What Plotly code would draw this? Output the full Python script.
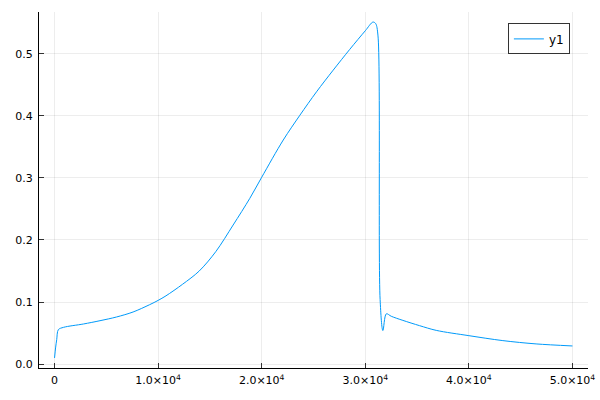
import plotly.graph_objects as go

x_vals = [0, 100, 210, 370, 870, 2790, 4390, 5990, 7580, 9180, 10000, 10760,
          12360, 13960, 15560, 17240, 18850, 20000, 22080, 23690, 25290,
          26900, 28500, 30000, 30740, 31000, 31220, 31430, 31700, 32030, 32510,
          33630, 35240, 36850, 40000, 43280, 46490, 50000]
y_vals = [0.0099, 0.026, 0.0394, 0.0555, 0.0592, 0.0646, 0.0699, 0.0759, 0.0839,
          0.0957, 0.1026, 0.110, 0.1286, 0.1498, 0.181, 0.224, 0.267, 0.301,
          0.361, 0.401, 0.4386, 0.4735, 0.507, 0.537, 0.551, 0.5486, 0.530, 0.104,
          0.054, 0.081, 0.077, 0.0704, 0.0619, 0.0543, 0.0458, 0.0378, 0.0325, 0.0292]

x_tickvals = [0, 10000, 20000, 30000, 40000, 50000]
x_ticktext = ["0", "1.0×10<sup>4</sup>", "2.0×10<sup>4</sup>", "3.0×10<sup>4</sup>",
              "4.0×10<sup>4</sup>", "5.0×10<sup>4</sup>"]
y_tickvals = [0.0, 0.1, 0.2, 0.3, 0.4, 0.5]
y_ticktext = ["0.0", "0.1", "0.2", "0.3", "0.4", "0.5"]

fig = go.Figure()
fig.add_trace(go.Scatter(x=x_vals, y=y_vals, mode="lines", name="y1",
                         line=dict(color="#009AFA", width=1, shape="spline", smoothing=0.9)))

axis_common = dict(
    showgrid=True, gridcolor="rgba(0,0,0,0.07)", gridwidth=0.5,
    zeroline=False, showline=True, linecolor="black", linewidth=1,
    ticks="inside", ticklen=5, tickcolor="#333333", tickwidth=1,
    tickfont=dict(family="DejaVu Sans", size=11, color="black"),
    mirror=False, automargin=False,
)

fig.update_xaxes(range=[-1500, 51500], tickvals=x_tickvals, ticktext=x_ticktext,
                 ticklabelstandoff=2, **axis_common)
fig.update_yaxes(range=[-0.0063, 0.5672], tickvals=y_tickvals, ticktext=y_ticktext,
                 ticklabelstandoff=3, **axis_common)

fig.update_layout(
    width=600, height=400,
    margin=dict(l=39, r=12, t=12, b=32),
    paper_bgcolor="white", plot_bgcolor="white",
    showlegend=True,
    legend=dict(x=0.967, y=0.968, xanchor="right", yanchor="top",
                bordercolor="#333333", borderwidth=1, bgcolor="white",
                font=dict(family="DejaVu Sans", size=12, color="black")),
)

fig.write_html("out.html", config={"displayModeBar": False})
with open("out.html", "r", encoding="utf-8") as f:
    html = f.read()
html = html.replace("<body>", '<body style="margin:0;padding:0;">', 1)
with open("out.html", "w", encoding="utf-8") as f:
    f.write(html)
